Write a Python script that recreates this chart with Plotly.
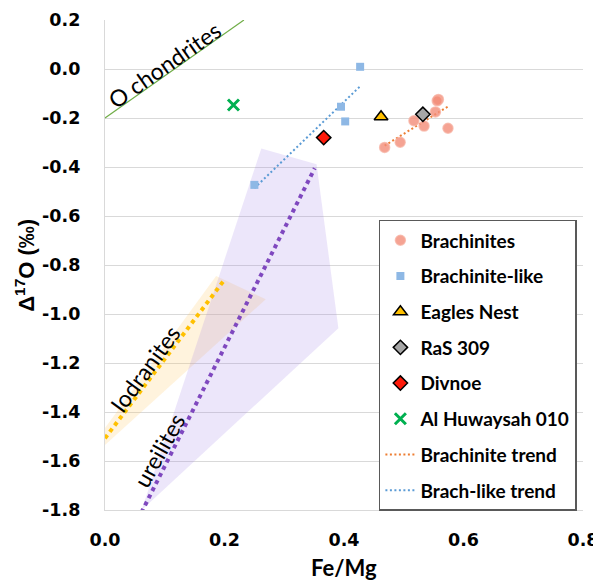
import numpy as np
import plotly.graph_objects as go

# ---------------- data ----------------
brach_x = [0.558, 0.556, 0.553, 0.517, 0.534, 0.574, 0.494, 0.468]
brach_y = [-0.124, -0.130, -0.175, -0.211, -0.233, -0.242, -0.299, -0.320]

blike_x = [0.427, 0.395, 0.402, 0.250]
blike_y = [0.009, -0.154, -0.214, -0.473]

eagles_x = [0.462]
eagles_y = [-0.195]
ras_x = [0.532]
ras_y = [-0.185]
divnoe_x = [0.366]
divnoe_y = [-0.280]
alh_x = [0.215]
alh_y = [-0.147]

# reference fields / trends
ochon_x = [0.0, 0.2325]
ochon_y = [-0.2, 0.2]
iod_trend_x = [0.0, 0.20]
iod_trend_y = [-1.507, -0.860]
ure_trend_x = [0.061, 0.351]
ure_trend_y = [-1.810, -0.405]
ure_poly_x = [0.2616, 0.3541, 0.3906, 0.0614]
ure_poly_y = [-0.324, -0.389, -1.058, -1.800]
iod_poly_x = [0.186, 0.269, 0.0, 0.0]
iod_poly_y = [-0.845, -0.940, -1.535, -1.465]

y_ticks = [0.2, 0.0, -0.2, -0.4, -0.6, -0.8, -1.0, -1.2, -1.4, -1.6, -1.8]
y_ticktext = ["0.2", "0.0", "-0.2", "-0.4", "-0.6", "-0.8", "-1.0", "-1.2", "-1.4", "-1.6", "-1.8"]
x_ticks = [0.0, 0.2, 0.4, 0.6, 0.8]
x_ticktext = ["0.0", "0.2", "0.4", "0.6", "0.8"]


def trend(xs, ys):
    k, b = np.polyfit(xs, ys, 1)
    xx = np.array([min(xs), max(xs)])
    return xx, k * xx + b


bt_x, bt_y = trend(brach_x, brach_y)
blt_x, blt_y = trend(blike_x, blike_y)

fig = go.Figure()

# fields
fig.add_trace(go.Scatter(x=iod_poly_x, y=iod_poly_y, fill="toself", mode="none",
                         fillcolor="rgba(255,200,100,0.22)", showlegend=False, hoverinfo="skip"))
fig.add_trace(go.Scatter(x=ure_poly_x, y=ure_poly_y, fill="toself", mode="none",
                         fillcolor="rgba(160,130,230,0.20)", showlegend=False, hoverinfo="skip"))
fig.add_trace(go.Scatter(x=ochon_x, y=ochon_y, mode="lines",
                         line=dict(color="#70AD47", width=1.2), showlegend=False, hoverinfo="skip"))
fig.add_trace(go.Scatter(x=iod_trend_x, y=iod_trend_y, mode="lines",
                         line=dict(color="#FFC000", width=4, dash="4px,4px"), showlegend=False))
fig.add_trace(go.Scatter(x=ure_trend_x, y=ure_trend_y, mode="lines",
                         line=dict(color="#7F48BF", width=4, dash="4px,4px"), showlegend=False))

# trend lines of data
fig.add_trace(go.Scatter(x=bt_x, y=bt_y, mode="lines", name="Brachinite trend", legendgroup="g7",
                         legendrank=7, line=dict(color="#ED7D31", width=2, dash="2px,2.5px")))
fig.add_trace(go.Scatter(x=blt_x, y=blt_y, mode="lines", name="Brach-like trend", legendgroup="g8",
                         legendrank=8, line=dict(color="#5B9BD5", width=2, dash="2px,2.5px")))

# points
fig.add_trace(go.Scatter(x=brach_x, y=brach_y, mode="markers", name="Brachinites", legendgroup="g1",
                         legendrank=1,
                         marker=dict(symbol="circle", size=10, color="rgba(243,140,120,0.80)",
                                     line=dict(color="rgba(246,175,160,0.7)", width=1.5))))
fig.add_trace(go.Scatter(x=blike_x, y=blike_y, mode="markers", name="Brachinite-like", legendgroup="g2",
                         legendrank=2,
                         marker=dict(symbol="square", size=8, color="#8EB8E5")))
fig.add_trace(go.Scatter(x=eagles_x, y=eagles_y, mode="markers", name="Eagles Nest", legendgroup="g3",
                         legendrank=3,
                         marker=dict(symbol="triangle-up", size=12, color="#FFC000",
                                     line=dict(color="#000000", width=1.5))))
fig.add_trace(go.Scatter(x=ras_x, y=ras_y, mode="markers", name="RaS 309", legendgroup="g4",
                         legendrank=4,
                         marker=dict(symbol="diamond", size=11, color="#A6A6A6",
                                     line=dict(color="#000000", width=1.5))))
fig.add_trace(go.Scatter(x=divnoe_x, y=divnoe_y, mode="markers", name="Divnoe", legendgroup="g5",
                         legendrank=5,
                         marker=dict(symbol="diamond", size=11, color="#FF1A0A",
                                     line=dict(color="#000000", width=1.5))))
fig.add_trace(go.Scatter(x=alh_x, y=alh_y, mode="markers", name="Al Huwaysah 010", legendgroup="g6",
                         legendrank=6,
                         marker=dict(symbol="x-thin-open", size=11, color="#00B050",
                                     line=dict(color="#00B050", width=3))))

tick_font = dict(family="DejaVu Sans", size=17.5, color="#000000", weight="bold")

# the page body adds an 8px offset, so the figure is 8px smaller and margins shifted
fig.update_layout(
    width=593, height=574,
    margin=dict(l=96.5, r=18, t=12, b=72, autoexpand=False),
    paper_bgcolor="white", plot_bgcolor="white",
    showlegend=True,
    legend=dict(x=0.573, y=0.592, xanchor="left", yanchor="top",
                bgcolor="white", bordercolor="#595959", borderwidth=1.5,
                font=dict(family="Lato", size=19, color="#000000", weight="bold"),
                traceorder="grouped", tracegroupgap=8, itemwidth=30),
    xaxis=dict(range=[0, 0.8], tickvals=x_ticks, ticktext=x_ticktext, showgrid=False,
               zeroline=False, showline=True, linecolor="#D9D9D9", linewidth=1.3,
               tickfont=tick_font, ticks="", ticklabelstandoff=14, automargin=False),
    yaxis=dict(range=[-1.8, 0.2], tickvals=y_ticks, ticktext=y_ticktext, showgrid=True,
               gridcolor="#D9D9D9", gridwidth=1.3, zeroline=False, showline=True,
               linecolor="#D9D9D9", linewidth=1.3, tickfont=tick_font, ticks="",
               ticklabelstandoff=20, automargin=False),
    annotations=[
        dict(text="Fe/Mg", xref="paper", yref="paper", x=0.5, y=-0.118, showarrow=False,
             xanchor="center", yanchor="middle",
             font=dict(family="Lato", size=22, color="#000000", weight="bold")),
        dict(text="Δ<sup>17</sup>O (‰)", xref="paper", yref="paper", x=-0.168, y=0.5,
             showarrow=False, textangle=-90, xanchor="center", yanchor="middle",
             font=dict(family="Liberation Sans", size=22, color="#000000", weight="bold")),
        dict(text="O chondrites", xref="x", yref="y", x=0.0992, y=0.016, showarrow=False,
             textangle=-35, xanchor="center", yanchor="middle",
             font=dict(family="Lato", size=23, color="#000000")),
        dict(text="Iodranites", xref="x", yref="y", x=0.0664, y=-1.2245, showarrow=False,
             textangle=-54, xanchor="center", yanchor="middle",
             font=dict(family="Lato", size=23, color="#000000")),
        dict(text="ureilites", xref="x", yref="y", x=0.0905, y=-1.555, showarrow=False,
             textangle=-61, xanchor="center", yanchor="middle",
             font=dict(family="Lato", size=23, color="#000000")),
    ],
)

fig.write_html("out.html")
